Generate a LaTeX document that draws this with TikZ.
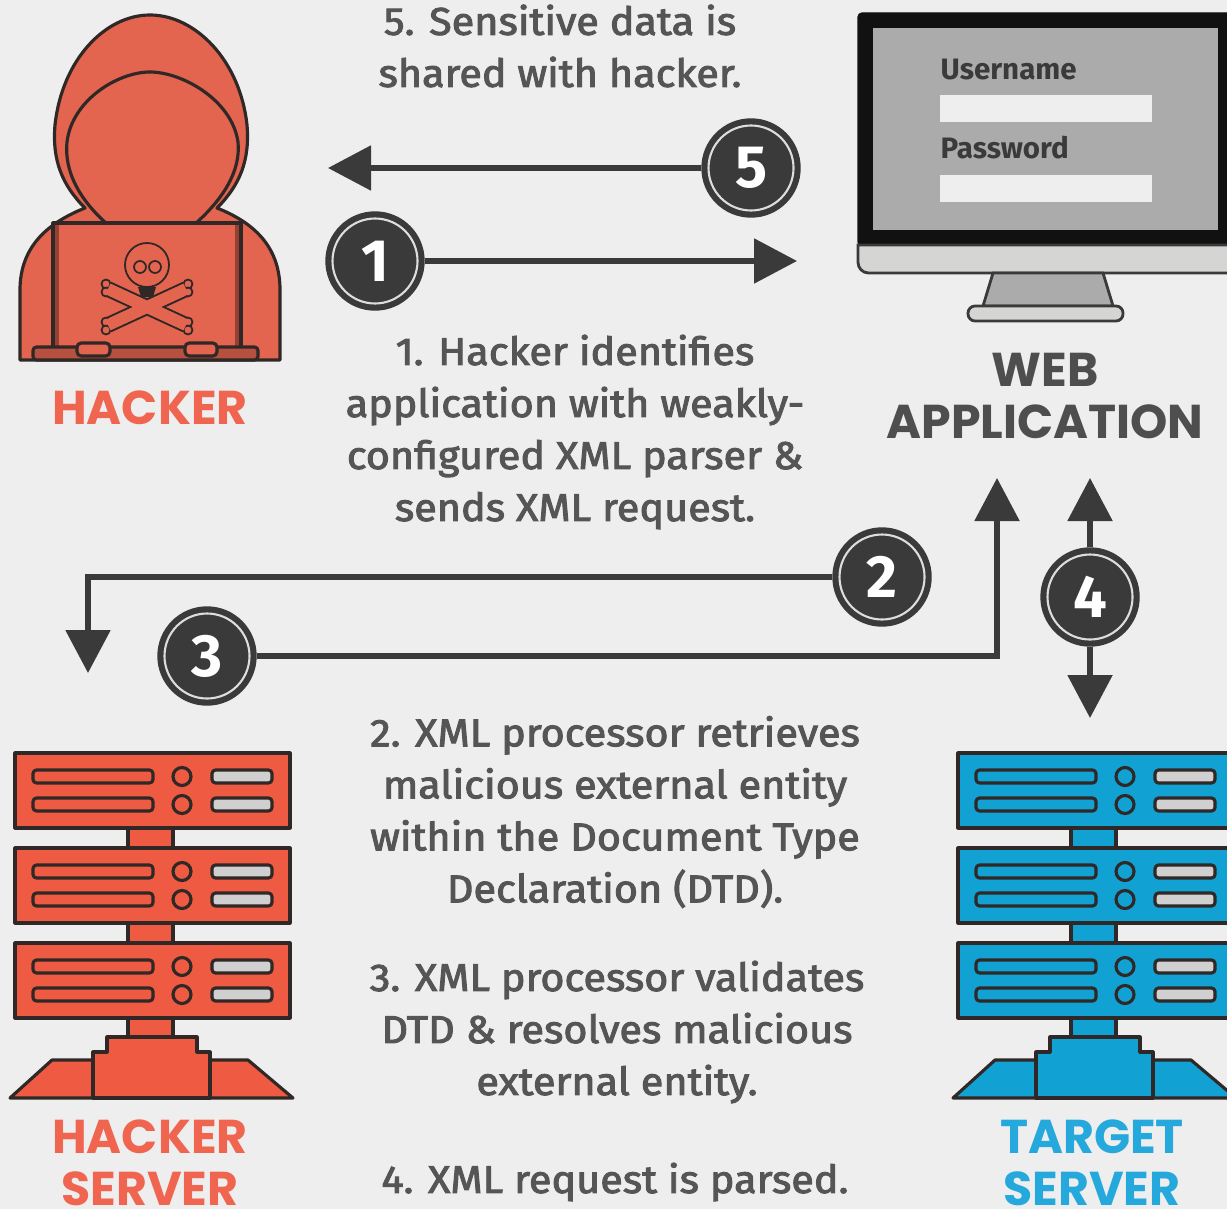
\documentclass[tikz,border=0pt]{standalone}
\usepackage{fontspec}
\setmainfont{Fira Sans}
\newfontfamily\bodyfont{Fira Sans}[FakeStretch=1.07,FakeBold=2.5]
\newfontfamily\labelfont{Poppins}
\usetikzlibrary{arrows.meta}

\definecolor{bgcol}{HTML}{EEEEEE}
\definecolor{hackred}{HTML}{E3644F}
\definecolor{servred}{HTML}{EF5B42}
\definecolor{targblue}{HTML}{12A1D3}
\definecolor{labred}{HTML}{F0654F}
\definecolor{labblue}{HTML}{25A8DC}
\definecolor{inkdark}{HTML}{3A3A3A}
\definecolor{outline}{HTML}{2F2826}
\definecolor{txtgray}{HTML}{555555}
\definecolor{monblack}{HTML}{111111}
\definecolor{scrgray}{HTML}{ABABAB}
\definecolor{chingray}{HTML}{D5D6D4}
\definecolor{slotgray}{HTML}{D0D0D0}

% one server stack: #1 = x offset, #2 = fill colour
\newcommand{\serverstack}[2]{%
  \begin{scope}[shift={(#1,0)}]
    % necks between the racks
    \foreach \y in {828,923,1018}
      \draw[srvline,fill=#2] (128,\y) rectangle (173,\y+21);
    % racks
    \foreach \y in {753,848,943} {
      \draw[srvline,fill=#2] (15,\y) rectangle (290,\y+75);
      \foreach \dy in {17,45} {
        \draw[srvline,fill=#2,rounded corners=1pt] (33,\y+\dy) rectangle (153,\y+\dy+13);
        \draw[srvline] (182,\y+\dy+6.5) circle (9);
        \draw[srvline,fill=slotgray,rounded corners=1pt] (212,\y+\dy) rectangle (272,\y+\dy+13);
      }
    }
    % stand
    \draw[srvline,fill=#2] (10,1098) -- (52,1060) -- (248,1060) -- (293,1098) -- cycle;
    \draw[srvline,fill=#2] (93,1098) -- (93,1052) -- (107,1052) -- (107,1037)
      -- (197,1037) -- (197,1052) -- (210,1052) -- (210,1098) -- cycle;
  \end{scope}}

\begin{document}
\begin{tikzpicture}[x=0.1mm,y=-0.1mm,
    srvline/.style={draw=outline,line width=0.9pt,line join=round},
    figline/.style={draw=outline,line width=0.9pt,line join=round},
    thinline/.style={draw=outline,line width=0.5pt},
    stepnum/.style={circle,fill=inkdark,draw=inkdark,minimum size=9.8mm,inner sep=0pt,
      text=white,font=\bfseries\fontsize{17}{17}\selectfont,
      path picture={\draw[bgcol!85!gray,line width=0.6pt]
        (path picture bounding box.center) circle (4.25mm);}},
    arw/.style={draw=inkdark,line width=0.55mm,-{Triangle[length=4.3mm,width=4.4mm]}},
    desc/.style={align=center,text=txtgray,inner sep=0pt,
      font=\bodyfont\fontsize{11}{14.8}\selectfont},
    lab/.style={align=center,inner sep=0pt,
      font=\labelfont\bfseries\fontsize{13.5}{14.8}\selectfont}]

  \fill[bgcol] (0,0) rectangle (1227,1209);
  \useasboundingbox (0,0) rectangle (1227,1209);

  % hacker in a hood behind a laptop
  \draw[figline,fill=hackred] (20,360) -- (20,290)
    .. controls (20,245) and (50,222) .. (85,208)
    .. controls (62,185) and (52,160) .. (55,125)
    .. controls (62,60) and (105,15) .. (150,15)
    .. controls (195,15) and (240,60) .. (247,125)
    .. controls (250,160) and (240,185) .. (217,208)
    .. controls (252,222) and (280,245) .. (280,290) -- (280,360) -- cycle;
  \draw[figline,fill=hackred] (107,224)
    .. controls (80,200) and (64,172) .. (67,142)
    .. controls (72,100) and (118,72) .. (150,72)
    .. controls (182,72) and (232,100) .. (238,142)
    .. controls (241,172) and (222,200) .. (195,224) -- cycle;
  \draw[figline,fill=hackred] (53,223) rectangle (241,348);
  \fill[hackred!65!black] (55,225) rectangle (59,346);
  \fill[hackred!65!black] (235,225) rectangle (239,346);
  \draw[figline,fill=hackred!80!black,rounded corners=1pt] (33,347) rectangle (258,360);
  \draw[figline,fill=hackred,rounded corners=1.2pt] (77,343) rectangle (110,356);
  \draw[figline,fill=hackred,rounded corners=1.2pt] (185,343) rectangle (217,356);
  % skull and crossbones
  \draw[outline,line width=4.5pt] (108,289) -- (186,325) (186,289) -- (108,325);
  \draw[hackred,line width=3.3pt] (108,289) -- (186,325) (186,289) -- (108,325);
  \foreach \bx/\by in {106/288,188/288,106/326,188/326} {
    \draw[thinline,fill=hackred] (\bx,\by-4) circle (4.5);
    \draw[thinline,fill=hackred] (\bx,\by+4) circle (4.5);
  }
  \draw[hackred,line width=3.3pt] (108,289) -- (186,325) (186,289) -- (108,325);
  \draw[thinline,fill=hackred] (147,265) circle (22);
  \draw[thinline] (140,267) circle (6) (155,267) circle (6);
  \fill[outline] (138,287) -- (156,287) -- (153,297) -- (141,297) -- cycle;

  % monitor with the login form
  \draw[monblack,fill=monblack,rounded corners=1.2pt] (858,13) rectangle (1240,246);
  \fill[scrgray] (873,28) rectangle (1218,230);
  \draw[draw=inkdark,fill=chingray,line width=0.8pt] (858,245) [rounded corners=3pt] -- (858,273)
    -- (1240,273) [sharp corners] -- (1240,245) -- cycle;
  \draw[draw=inkdark,fill=scrgray,line width=0.8pt] (993,273) -- (983,306) -- (1113,306) -- (1103,273) -- cycle;
  \draw[draw=inkdark,fill=chingray,line width=0.8pt,rounded corners=2pt] (968,306) rectangle (1123,321);
  \node[anchor=base west,inner sep=0pt,text=inkdark,font=\bfseries\fontsize{8.4}{9}\selectfont]
    (uname) at (940,80) {Username};
  \fill[bgcol] (940,95) rectangle (1152,122);
  \node[anchor=base west,inner sep=0pt,text=inkdark,font=\bfseries\fontsize{8.4}{9}\selectfont]
    (pword) at (940,159) {Password};
  \fill[bgcol] (940,175) rectangle (1152,202);

  % the two server stacks
  \serverstack{0}{servred}
  \serverstack{943}{targblue}

  % labels
  \node[lab,text=labred] (hacker) at (150,408) {HACKER};
  \node[lab,text=inkdark!90] (webapp) at (1045,396) {WEB\\APPLICATION};
  \node[lab,text=labred] (hsrvlab) at (150,1163) {HACKER\\SERVER};
  \node[lab,text=labblue] (tsrvlab) at (1092,1163) {TARGET\\SERVER};

  % numbered steps
  \node[stepnum] (s1) at (375,261) {1};
  \node[stepnum] (s2) at (882,577) {2};
  \node[stepnum] (s3) at (207,656) {3};
  \node[stepnum] (s4) at (1090,597) {4};
  \node[stepnum] (s5) at (751,168) {5};

  \coordinate (toHacker) at (328,168);
  \coordinate (toWeb) at (797,261);
  \coordinate (toHsrv) at (88,673);
  \coordinate (webIn) at (997,478);
  \coordinate (webOut) at (1090,478);
  \coordinate (toTsrv) at (1090,718);

  \draw[arw] (s5) -- (toHacker);
  \draw[arw] (s1) -- (toWeb);
  \draw[arw] (s2) -| (toHsrv);
  \draw[arw] (s3) -| (webIn);
  \draw[arw] (s4) -- (webOut);
  \draw[arw] (s4) -- (toTsrv);

  % step descriptions
  \node[desc] (txt5) at (560,46) {5. Sensitive data is\\shared with hacker.};
  \node[desc] (txt1) at (575,432) {1. Hacker identifies\\application with weakly-\\configured XML parser \&\\sends XML request.};
  \node[desc] (txt2) at (615,812) {2. XML processor retrieves\\malicious external entity\\within the Document Type\\Declaration (DTD).};
  \node[desc] (txt3) at (617,1032) {3. XML processor validates\\DTD \& resolves malicious\\external entity.};
  \node[desc] (txt4) at (615,1182) {4. XML request is parsed.};
\end{tikzpicture}
\end{document}
